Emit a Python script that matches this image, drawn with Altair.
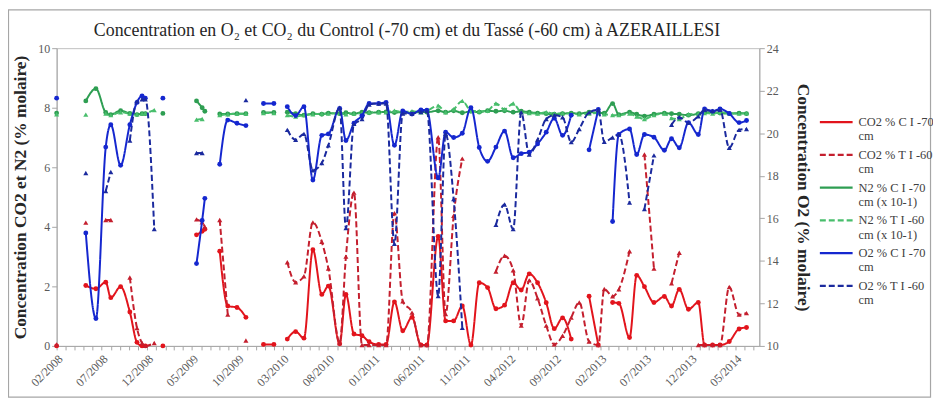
import altair as alt
import pandas as pd

dates = [
    "2008-02-01", "2008-05-09", "2008-06-12", "2008-07-15", "2008-08-01", "2008-09-03", "2008-10-04", "2008-10-28", "2008-11-14", "2008-11-25",
    "2008-12-25", "2009-01-23", "2009-05-16", "2009-06-04", "2009-06-13", "2009-08-02", "2009-08-29", "2009-09-29", "2009-10-29", "2009-12-27",
    "2010-01-31", "2010-03-17", "2010-04-14", "2010-05-12", "2010-06-11", "2010-07-11", "2010-08-02", "2010-09-09", "2010-09-30", "2010-10-27",
    "2010-11-23", "2010-12-17", "2011-01-18", "2011-02-12", "2011-03-12", "2011-04-09", "2011-05-10", "2011-06-09", "2011-06-29", "2011-08-06",
    "2011-08-31", "2011-09-27", "2011-10-26", "2011-11-24", "2011-12-22", "2012-01-19", "2012-02-16", "2012-03-16", "2012-04-14", "2012-05-11",
    "2012-06-07", "2012-07-05", "2012-08-03", "2012-08-30", "2012-09-27", "2012-10-26", "2012-11-22", "2012-12-25", "2013-01-25", "2013-02-14",
    "2013-03-14", "2013-04-04", "2013-05-10", "2013-06-03", "2013-06-29", "2013-07-31", "2013-09-04", "2013-09-28", "2013-10-24", "2013-11-24",
    "2013-12-27", "2014-01-17", "2014-02-13", "2014-03-10", "2014-04-10", "2014-05-13", "2014-06-07",
]

# dates between which every series is interrupted
breaks = ["2008-03-20", "2009-03-15", "2009-07-10", "2009-11-30", "2010-02-25"]

co2_c = [0.0, 2.03, 1.92, 2.14, 1.62, 1.99, 1.14, 0.12, 0.0, 0.0,
         None, 0.0, 3.73, 3.85, 3.92, 3.18, 1.34, 1.29, 0.96, 0.05,
         0.05, 0.23, 0.48, 0.26, 3.23, 1.73, 2.01, 0.07, 1.73, 0.4,
         0.34, 0.14, 0.05, 0.05, 1.48, 0.51, 0.96, 0.03, 0.03, 3.68,
         0.84, 0.84, 1.34, 0.03, 2.12, 1.96, 1.25, 1.37, 2.12, 1.88,
         2.42, 2.12, 1.45, 0.58, 0.94, 0.23, None, 1.67, 0.03, None,
         1.46, 1.43, 0.28, 2.37, 1.99, 1.46, 1.66, 1.34, 1.9, 1.23,
         1.46, 0.03, 0.03, 0.03, 0.15, 0.57, 0.62]

co2_t = [0.05, 4.14, None, 4.23, 4.23, None, 2.3, 0.6, 0.1, 0.0,
         0.1, None, 4.25, 4.15, 4.0, 4.23, 1.05, None, 0.18, None,
         None, 2.81, 2.14, 2.34, 4.15, 3.5, 2.6, 0.1, 3.0, 5.15,
         0.03, 0.03, 0.03, 0.03, 4.46, 1.5, 1.12, 0.03, 0.03, 7.01,
         1.07, 4.37, 6.29, None, None, None, 2.5, 3.03, 2.54, 0.68,
         2.2, 1.6, 0.68, 0.05, 0.34, 0.95, 1.46, 0.15, 0.03, 1.91,
         1.67, 1.9, 3.18, None, 6.43, 2.6, None, 2.1, 3.13, None,
         0.03, 0.03, 0.03, 0.03, 1.98, 1.05, 1.1]

n2_c = [7.82, 8.23, 8.64, 7.84, 7.77, 7.9, 7.81, 7.77, 7.8, 7.8,
        None, 7.81, 8.23, 8.0, 7.88, 7.79, 7.79, 7.8, 7.8, 7.84,
        7.84, 7.85, 7.8, 7.75, 7.8, 7.78, 7.82, 7.8, 7.83, 7.8,
        7.85, 7.83, 7.85, 7.86, 7.84, 7.85, 7.83, 7.86, 7.85, 7.9,
        7.85, 7.9, 7.83, 7.88, 7.85, 7.9, 7.88, 7.9, 7.85, 7.88,
        7.85, 7.82, 7.8, 7.78, 7.8, 7.82, 7.8, 7.85, 7.83, 7.82,
        8.14, 7.77, 7.85, 7.78, 7.72, 7.78, 7.82, 7.8, 7.78, 7.75,
        7.8, 7.85, 7.85, 7.82, 7.8, 7.82, 7.8]

n2_t = [7.78, 7.77, None, 7.8, 7.75, 7.85, 7.8, 7.78, 7.8, 7.82,
        7.92, None, 7.6, 7.62, None, 7.75, 7.78, 7.8, 7.8, 7.82,
        7.82, 7.75, 7.7, 7.75, 7.78, 7.8, 7.8, 7.82, 7.78, 7.8,
        7.82, 7.85, 7.85, 7.85, 7.9, 7.85, 7.88, 7.85, 7.9, 8.07,
        7.85, 7.95, 8.23, 7.9, 7.88, 7.9, 8.14, 7.95, 8.14, 7.85,
        7.82, 7.8, 7.85, 7.8, 7.82, 7.8, 7.78, 7.8, 7.82, 7.78,
        7.75, 7.75, 7.8, 7.7, 7.62, 7.75, 7.8, 7.65, 7.62, 7.78,
        7.8, 7.82, 7.8, 7.85, 7.82, 7.8, 7.82]

o2_c = [21.65, 15.31, 11.29, 19.35, 20.4, 18.49, 20.4, 21.45, 21.76, 21.65,
        None, 21.65, 13.87, 15.9, 16.94, 18.54, 20.62, 20.47, 20.36, 21.4,
        21.4, 21.25, 20.83, 21.25, 17.8, 19.9, 19.97, 21.17, 19.66, 20.47,
        20.83, 21.4, 21.4, 21.45, 19.43, 21.05, 20.9, 21.1, 21.08, 17.9,
        20.05, 19.8, 20.0, 21.2, 19.33, 18.68, 19.35, 20.1, 18.85, 19.04,
        19.11, 19.5, 20.05, 20.7, 19.9, 20.85, None, 19.22, 21.12, None,
        15.85, 19.94, 20.2, 19.0, 19.94, 19.81, 19.2, 19.74, 19.32, 20.5,
        19.94, 21.14, 21.03, 21.14, 20.93, 20.5, 20.6]

o2_t = [None, 18.13, None, 17.28, 18.18, None, 19.66, 21.5, 21.6, 21.6,
        15.5, None, 19.07, 19.07, None, None, None, None, 21.56, None,
        None, 20.16, 19.69, 19.97, 18.26, 18.6, 19.43, 21.2, 15.54, 20.44,
        20.67, 21.35, 21.4, 21.4, 14.8, 20.93, 20.93, 21.0, 21.05, 12.35,
        19.97, 16.9, 10.85, None, None, None, 15.69, 16.65, 15.49, 20.98,
        19.0, 19.7, 20.67, 20.85, 20.75, 19.58, 20.2, 20.98, 21.1, 19.6,
        19.8, 19.94, 16.74, None, 16.43, 18.96, None, 20.4, 20.75, 20.5,
        20.8, 21.1, 21.05, 21.1, 19.32, 20.16, 20.2]

names = ["CO2 % C I -70|cm", "CO2 % T I -60|cm", "N2 % C I -70|cm (x 10-1)",
         "N2 % T I -60|cm (x 10-1)", "O2 % C I -70|cm", "O2 % T I -60|cm"]
colors = ["#E2141C", "#C41F2E", "#2E9E52", "#48BE6C", "#1527CF", "#1B2A9E"]
dashes = [[1, 0], [6, 3], [1, 0], [6, 3], [1, 0], [6, 3]]

title_text = "Concentration en O\u2082 et CO\u2082 du Control (-70 cm) et du Tass\u00e9 (-60 cm) \u00e0 AZERAILLESI"


def build(values, name, kind):
    rows = []
    seg = 0
    prev = None
    bts = [pd.Timestamp(b) for b in breaks]
    for d, v in zip(dates, values):
        t = pd.Timestamp(d)
        if v is None:
            seg += 1
            prev = t
            continue
        if prev is not None and any(prev < b < t for b in bts):
            seg += 1
        rows.append({"date": d, "value": v, "series": name, "kind": kind, "seg": f"{name}#{seg}"})
        prev = t
    return rows


left_df = pd.DataFrame(build(co2_c, names[0], "C") + build(co2_t, names[1], "T") +
                       build(n2_c, names[2], "C") + build(n2_t, names[3], "T"))
right_df = pd.DataFrame(build(o2_c, names[4], "C") + build(o2_t, names[5], "T"))

t0 = pd.Timestamp("2008-02-01", tz="UTC")
t1 = pd.Timestamp("2014-07-20", tz="UTC")
ticks = [int(t.timestamp() * 1000) for t in pd.date_range("2008-02-01", "2014-07-01", freq="MS", tz="UTC")]

x_enc = alt.X(
    "date:T",
    scale=alt.Scale(type="utc", domain=[int(t0.timestamp() * 1000), int(t1.timestamp() * 1000)]),
    axis=alt.Axis(
        values=ticks, title=None, labelAngle=-45, labelOverlap=False,
        labelExpr="((utcyear(datum.value)*12 + utcmonth(datum.value) - 24097) % 5 == 0) ? utcFormat(datum.value, '%m/%Y') : ''",
        tickSize=4, labelFontSize=12, labelPadding=3,
    ),
)

line_symbol = "M-1.65,0H1.65"
leg = alt.Legend(title=None, labelExpr="split(datum.label, '|')", symbolType=line_symbol)
color_enc = alt.Color("series:N", scale=alt.Scale(domain=names, range=colors), legend=leg)
color_nolegend = alt.Color("series:N", scale=alt.Scale(domain=names, range=colors), legend=None)
dash_enc = alt.StrokeDash("series:N", scale=alt.Scale(domain=names, range=dashes), legend=leg)

left_y = alt.Y("value:Q", scale=alt.Scale(domain=[0, 10]),
               axis=alt.Axis(values=[0, 2, 4, 6, 8, 10], title="Concentration CO2 et N2 (% molaire)",
                             tickSize=5, titlePadding=8))
right_y = alt.Y("value:Q", scale=alt.Scale(domain=[10, 24]),
                axis=alt.Axis(orient="right", values=[10, 12, 14, 16, 18, 20, 22, 24],
                              title="Concentration O2 (% molaire)", tickSize=5, titlePadding=15))


def panel(df, y_enc):
    lines = alt.Chart(df).mark_line(strokeWidth=2, interpolate="monotone").encode(
        x=x_enc, y=y_enc, color=color_enc, strokeDash=dash_enc, detail="seg:N")
    circles = alt.Chart(df).transform_filter("datum.kind == 'C'").mark_point(
        shape="circle", filled=True, size=24, opacity=1).encode(x=x_enc, y=y_enc, color=color_nolegend)
    tris = alt.Chart(df).transform_filter("datum.kind == 'T'").mark_point(
        shape="triangle-up", filled=True, size=26, opacity=1).encode(x=x_enc, y=y_enc, color=color_nolegend)
    return alt.layer(lines, circles, tris)


frame = alt.Chart(pd.DataFrame({"a": [0]})).mark_rect(
    fill="transparent", stroke="#A6A6A6", strokeWidth=1.2).encode(
    x=alt.value(-48.5), x2=alt.value(880.5), y=alt.value(-38.5), y2=alt.value(351.5))

title_mark = alt.Chart(pd.DataFrame({"t": [title_text]})).mark_text(
    font="Liberation Serif", fontSize=18, color="#262626", align="center", baseline="middle").encode(
    text="t:N", x=alt.value(353), y=alt.value(-17))

chart = alt.layer(panel(left_df, left_y), panel(right_df, right_y), frame, title_mark).resolve_scale(
    y="independent").properties(
    width=708, height=300,
    padding={"left": 49, "top": 39, "right": 175, "bottom": 52},
    autosize=alt.AutoSizeParams(type="none"),
).configure_view(stroke="#BFBFBF").configure_axis(
    labelFont="Liberation Serif", labelFontSize=12, labelColor="#595959",
    tickColor="#A6A6A6", domainColor="#A6A6A6", grid=False,
    titleFont="Liberation Serif", titleFontSize=17.5, titleFontWeight="bold", titleColor="#262626",
).configure_legend(
    orient="none", legendX=774, legendY=63, symbolType=line_symbol, symbolSize=400,
    symbolStrokeWidth=2.2, labelFont="Liberation Serif", labelFontSize=12.5, labelColor="#404040",
    rowPadding=0, labelOffset=11, padding=0, labelLimit=200,
)

chart.save("out.html", embed_options={"renderer": "svg", "actions": False})
